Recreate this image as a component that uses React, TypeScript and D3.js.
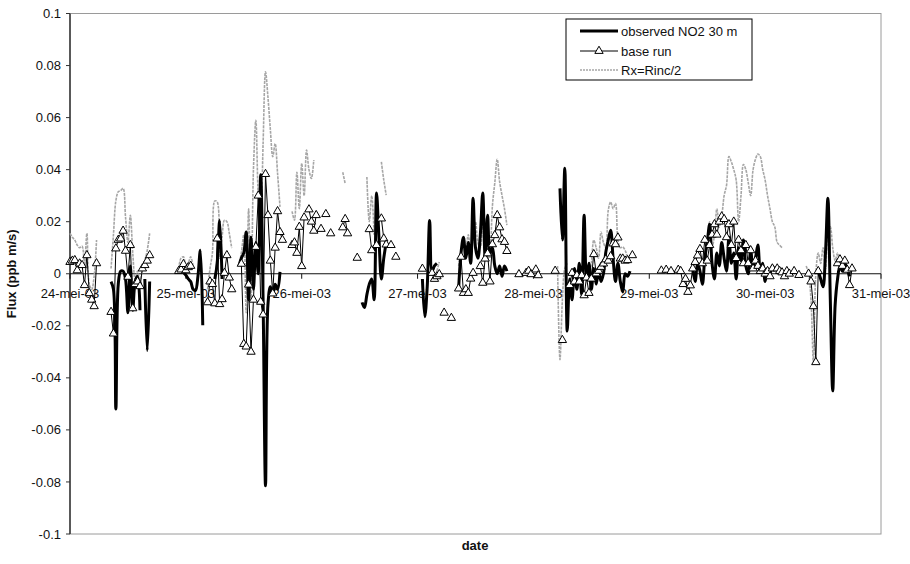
import React from "react";
import * as d3 from "d3";

// time unit: half-hours since 24-mei-03 00:00 (48 per day)
type Seg = { start: number; values: number[] };

const dayLabels = ["24-mei-03", "25-mei-03", "26-mei-03", "27-mei-03", "28-mei-03", "29-mei-03", "30-mei-03", "31-mei-03"];
const yTicks = [0.1, 0.08, 0.06, 0.04, 0.02, 0, -0.02, -0.04, -0.06, -0.08, -0.1];
const legendLabels = ["observed NO2 30 m", "base run", "Rx=Rinc/2"];

const observedSegments: Seg[] = [
  { start: 17, values: [-0.003, -0.006, -0.052, -0.004, 0.001, 0.001, -0.002, -0.015, 0.003, -0.014, -0.003, -0.001, -0.014] },
  { start: 31, values: [-0.002, -0.0295, -0.003] },
  { start: 46, values: [0.001, 0.0005, -0.0005, -0.002, -0.003, -0.006, -0.0064, -0.001, 0.009, -0.0198] },
  { start: 60, values: [-0.002, 0.004, 0.0205, -0.002] },
  { start: 70, values: [0.003, 0.006, 0.008, 0.016, -0.01, 0.014, -0.006, 0.012, 0.0, 0.038, -0.01, -0.0815, -0.012, -0.005, -0.008, -0.004, -0.006, 0.0007] },
  { start: 121, values: [-0.011, -0.013, -0.008, -0.004, -0.002, -0.01, 0.031, 0.014, -0.002, 0.006, 0.012] },
  { start: 146, values: [-0.002, -0.0165, -0.005, 0.0205, 0.001, 0.003, 0.004] },
  { start: 161, values: [-0.006, 0.008, 0.014, 0.006, 0.012, 0.004, 0.029, 0.01, 0.006, 0.015, 0.031, 0.006, 0.0225, 0.008, 0.01, 0.003, 0.0, 0.003, -0.001, 0.003, 0.001] },
  { start: 203, values: [0.0328, 0.013, 0.0405, -0.022, -0.002, -0.01, 0.002, -0.006, 0.004, -0.008, 0.0225, -0.002, 0.004, -0.006, 0.002, -0.004, 0.001, -0.003, 0.0, 0.0084, 0.0129, 0.0167, 0.006, -0.003, 0.004, -0.003, -0.007, 0.0, -0.001, 0.001] },
  { start: 258, values: [0.002, -0.003, 0.004, 0.001, -0.004, 0.006, 0.012, 0.019, 0.004, -0.002, 0.008, 0.003, 0.012, 0.006, 0.001, 0.014, 0.004, 0.008, -0.002, 0.01, 0.005, 0.013, 0.003, 0.0, 0.009, 0.002, 0.006, 0.011, 0.001, 0.004, -0.003, 0.002, 0.0, 0.003, 0.001] },
  { start: 310, values: [0.001, -0.002, -0.005, 0.008, 0.029, -0.01, -0.045, -0.012, -0.002, 0.003, 0.001, 0.004, 0.002, -0.001] },
];

const baseRunSegments: Seg[] = [
  { start: 0, values: [0.0045, 0.005, 0.0052, 0.0013, 0.0039, 0.0033, -0.0044, 0.0071, -0.0075, -0.01, -0.0125, 0.004] },
  { start: 17, values: [-0.0147, -0.023, 0.0097, 0.013, 0.0135, 0.0165, 0.0088, -0.0012, 0.011, -0.0133, -0.004, -0.003, -0.0048, 0.002, 0.0033, 0.005, 0.0071] },
  { start: 45, values: [0.001, 0.0016, 0.0037, 0.0013, 0.0025, 0.003] },
  { start: 57, values: [-0.011, -0.003, -0.004, -0.0114, 0.0135, -0.0117, -0.0098, 0.0003, 0.0071, -0.0015, -0.006] },
  { start: 71, values: [0.0038, -0.027, -0.028, -0.0042, -0.03, -0.01, 0.0103, 0.03, -0.0108, -0.0157, 0.0383, 0.0225, 0.005, -0.0076, 0.01, 0.024, 0.016, 0.013] },
  { start: 92, values: [0.011, 0.012, 0.008, 0.018, 0.0029, 0.0216] },
  { start: 99, values: [0.0247, 0.02, 0.0165, 0.0225] },
  { start: 104, values: [0.0172] },
  { start: 106, values: [0.0229] },
  { start: 108, values: [0.0155] },
  { start: 113, values: [0.0178, 0.021, 0.0155] },
  { start: 119, values: [0.0061] },
  { start: 124, values: [0.0171, 0.009] },
  { start: 127, values: [0.011] },
  { start: 129, values: [0.0212, 0.0135, 0.0112] },
  { start: 133, values: [0.011] },
  { start: 135, values: [0.0065] },
  { start: 146, values: [0.0019] },
  { start: 150, values: [0.0003, -0.002, -0.001, -0.0002] },
  { start: 155, values: [-0.015] },
  { start: 158, values: [-0.017] },
  { start: 161, values: [-0.0057, 0.0065, -0.0074, -0.006, -0.0074, -0.0019, 0.0003] },
  { start: 170, values: [0.0029, -0.0035, 0.0058, 0.0078, -0.003, 0.0113, 0.0148, 0.0225, 0.0178, 0.0132, 0.0122, 0.0087] },
  { start: 186, values: [-0.0002] },
  { start: 189, values: [0.0003, 0.0011, -0.0002] },
  { start: 193, values: [0.0016, -0.0006] },
  { start: 201, values: [0.0011] },
  { start: 204, values: [-0.0255] },
  { start: 207, values: [-0.0044, 0.0003, -0.003, -0.0006, -0.003, -0.0006, -0.0083, -0.0015, -0.0074, -0.0019, 0.0075, 0.0001, 0.0011, 0.0026, 0.0039, 0.0055, 0.005, 0.0067, 0.0116, 0.0113, 0.0139] },
  { start: 228, values: [0.0058, 0.0058, 0.005, 0.0052] },
  { start: 233, values: [0.0071] },
  { start: 245, values: [0.0012] },
  { start: 247, values: [0.0015] },
  { start: 249, values: [0.001] },
  { start: 252, values: [0.0015, 0.001, -0.004, -0.002, -0.007, -0.0045, 0.002, 0.0045, 0.007, 0.0095, 0.004, 0.013, 0.005, 0.011, 0.015, 0.019, 0.015, 0.02, 0.022, 0.021, 0.014, 0.019, 0.011, 0.02, 0.006, 0.013, 0.009, 0.004, 0.011, 0.004, 0.009, 0.002, 0.005, 0.003, 0.001, 0.002, 0.0, 0.001, -0.001, 0.002] },
  { start: 293, values: [0.002, 0.001, 0.0005, -0.001, 0.001, 0.0] },
  { start: 300, values: [0.001] },
  { start: 302, values: [-0.0005] },
  { start: 306, values: [0.0, -0.003, -0.0125, -0.034, 0.001] },
  { start: 318, values: [0.004, 0.0055, 0.003, 0.005, 0.0015, -0.0044, 0.002] },
];

const rxSegments: Seg[] = [
  { start: 0, values: [0.0155, 0.014, 0.0129, 0.011, 0.01, 0.0106, 0.004, 0.0155, -0.004, -0.006, -0.001, 0.013] },
  { start: 17, values: [0.002, 0.015, 0.028, 0.0315, 0.032, 0.0328, 0.0218, 0.012, 0.0225, 0.008, -0.002, 0.001, -0.004, 0.002, 0.0052, 0.009, 0.0155] },
  { start: 45, values: [0.002, 0.006, 0.0065, 0.003, 0.004, 0.0065, 0.003] },
  { start: 57, values: [-0.006, 0.002, 0.008, 0.028, 0.0276, 0.006, 0.014, 0.0206, 0.02, 0.0155, 0.0098] },
  { start: 70, values: [0.003, 0.008, 0.015, -0.015, 0.025, -0.01, 0.04, 0.059, 0.03, 0.02, 0.05, 0.0776, 0.068, 0.0555, 0.045, 0.05, 0.0385, 0.0257] },
  { start: 92, values: [0.024, 0.0206, 0.039, 0.025, 0.0424, 0.03, 0.0475, 0.04, 0.0366, 0.0437] },
  { start: 113, values: [0.039, 0.0347] },
  { start: 123, values: [0.0372, 0.02, 0.03, 0.015] },
  { start: 129, values: [0.043, 0.036, 0.0302] },
  { start: 152, values: [0.001, 0.0045] },
  { start: 161, values: [0.003, 0.008, 0.014, 0.01, 0.015, 0.008, 0.014, 0.02, 0.012, 0.01, 0.022, 0.008, 0.018, 0.006, 0.026, 0.035, 0.044, 0.0353, 0.03, 0.025, 0.0187] },
  { start: 202, values: [0.003, -0.033, -0.01, 0.002, 0.004] },
  { start: 214, values: [0.001, -0.002, 0.004, 0.0129, 0.01, 0.006, 0.016, 0.012, 0.01, 0.0244, 0.0276, 0.025, 0.027, 0.0129, 0.01, 0.0103, 0.009, 0.006] },
  { start: 260, values: [0.002, 0.004, 0.003, 0.008, 0.012, 0.02, 0.01, 0.015, 0.025, 0.018, 0.022, 0.03, 0.034, 0.045, 0.043, 0.04, 0.036, 0.02, 0.03, 0.042, 0.04, 0.035, 0.03, 0.04, 0.044, 0.046, 0.045, 0.04, 0.036, 0.03, 0.025, 0.02, 0.018, 0.012, 0.011, 0.01] },
  { start: 305, values: [0.003, 0.0, -0.01, -0.034, 0.0, 0.008, 0.004, 0.01, 0.002, 0.015, 0.018, 0.01, 0.005, 0.008, 0.003, 0.005] },
];

const W = 910;
const H = 564;
const FONT = "'Liberation Sans', Arial, sans-serif";
const FS = 13;

export default function App() {
  const x = d3.scaleLinear().domain([0, 336]).range([70, 881]);
  const y = d3.scaleLinear().domain([-0.1, 0.1]).range([534, 13.5]);

  const toPts = (s: Seg) => s.values.map((v, i) => [s.start + i, v] as [number, number]);

  const straight = d3.line<[number, number]>().x((d) => x(d[0])).y((d) => y(d[1]));
  const smooth = d3
    .line<[number, number]>()
    .x((d) => x(d[0]))
    .y((d) => y(d[1]))
    .curve(d3.curveCatmullRom.alpha(0.5));

  const tri = d3.symbol().type(d3.symbolTriangle).size(30)() as string;

  const legendX = 566;
  const legendY = 19;
  const rowY = [31, 51, 70];

  return (
    <svg width={W} height={H} style={{ position: "absolute", left: 0, top: 0, background: "#fff" }} fontFamily={FONT}>
      {/* plot area border */}
      <rect x={x(0)} y={y(0.1)} width={x(336) - x(0)} height={y(-0.1) - y(0.1)} fill="none" stroke="#9a9a9a" strokeWidth={1} />
      {/* y axis */}
      <line x1={x(0)} x2={x(0)} y1={y(0.1)} y2={y(-0.1)} stroke="#333" strokeWidth={1.5} />
      {yTicks.map((t) => (
        <g key={"yt" + t}>
          <line x1={x(0) - 4} x2={x(0)} y1={y(t)} y2={y(t)} stroke="#333" strokeWidth={1} />
          <text x={x(0) - 9} y={y(t)} dy="0.35em" textAnchor="end" fontSize={FS} fill="#111">
            {String(t)}
          </text>
        </g>
      ))}
      {/* x axis at zero */}
      <line x1={x(0)} x2={x(336)} y1={y(0)} y2={y(0)} stroke="#111" strokeWidth={1} />
      {dayLabels.map((lab, i) => (
        <g key={lab}>
          <line x1={x(i * 48)} x2={x(i * 48)} y1={y(0)} y2={y(0) + 5} stroke="#111" strokeWidth={1} />
          <text x={x(i * 48)} y={y(0) + 24} textAnchor="middle" fontSize={FS} fill="#111">
            {lab}
          </text>
        </g>
      ))}

      {/* Rx series */}
      {rxSegments.map((s, i) => (
        <path key={"rx" + i} d={smooth(toPts(s)) || ""} fill="none" stroke="#a6a6a6" strokeWidth={1.6} strokeDasharray="3 1" />
      ))}
      {/* observed */}
      {observedSegments.map((s, i) => (
        <path key={"ob" + i} d={smooth(toPts(s)) || ""} fill="none" stroke="#000" strokeWidth={3} strokeLinejoin="round" />
      ))}
      {/* base run */}
      {baseRunSegments.map((s, i) => (
        <path key={"br" + i} d={straight(toPts(s)) || ""} fill="none" stroke="#000" strokeWidth={1} />
      ))}
      {baseRunSegments.flatMap((s, i) =>
        toPts(s).map((p, j) => (
          <path key={"m" + i + "_" + j} d={tri} transform={`translate(${x(p[0])},${y(p[1])})`} fill="#fff" stroke="#000" strokeWidth={1} />
        ))
      )}

      {/* legend */}
      <rect x={legendX} y={legendY} width={186} height={61} fill="#fff" stroke="#000" strokeWidth={1} />
      <line x1={580} x2={618} y1={rowY[0]} y2={rowY[0]} stroke="#000" strokeWidth={3} />
      <line x1={580} x2={618} y1={rowY[1]} y2={rowY[1]} stroke="#000" strokeWidth={1} />
      <path d={tri} transform={`translate(599,${rowY[1]})`} fill="#fff" stroke="#000" strokeWidth={1} />
      <line x1={580} x2={618} y1={rowY[2]} y2={rowY[2]} stroke="#a6a6a6" strokeWidth={1.4} strokeDasharray="2 1" />
      {legendLabels.map((l, i) => (
        <text key={l} x={621} y={rowY[i]} dy="0.35em" fontSize={FS} fill="#111">
          {l}
        </text>
      ))}

      {/* axis titles */}
      <text transform={`translate(16,${y(0)}) rotate(-90)`} textAnchor="middle" fontSize={FS} fontWeight="bold" fill="#111">
        Flux (ppb m/s)
      </text>
      <text x={475} y={550} textAnchor="middle" fontSize={FS} fontWeight="bold" fill="#111">
        date
      </text>
    </svg>
  );
}
